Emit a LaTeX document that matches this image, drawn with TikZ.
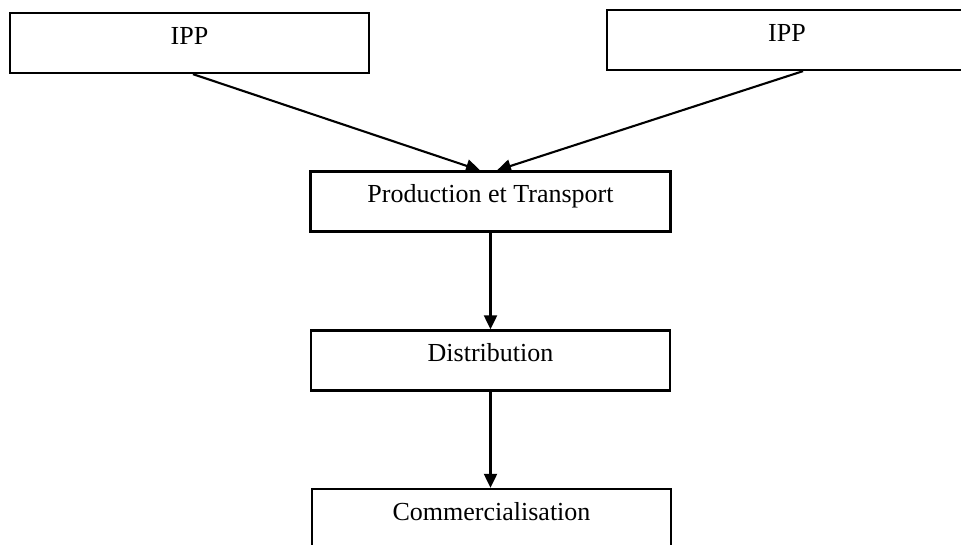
\documentclass[tikz,border=0pt]{standalone}
\usepackage{fontspec}
\setmainfont{Liberation Serif}
\usetikzlibrary{arrows.meta}
\begin{document}
\begin{tikzpicture}[x=1pt,y=-1pt,
  stagebox/.style={draw=black, line width=2.3pt, rectangle, inner sep=0pt,
    minimum height=60pt, text height=0.7em, text depth=0.45em,
    font=\fontsize{26}{30}\selectfont},
  flow/.style={draw=black, line width=2.1pt,
    -{Triangle[length=14pt,width=13pt]}}]
  \useasboundingbox (0,0) rectangle (961,545);
  \clip (0,0) rectangle (961,545);

  % supplier boxes
  \node[stagebox, minimum width=359pt] (ippL) at (189.5,43) {IPP};
  \node[stagebox, minimum width=360pt] (ippR) at (787,40) {IPP};

  % value chain
  \node[stagebox, minimum width=360pt] (prod) at (490.5,201.5) {Production et Transport};
  \node[stagebox, minimum width=359pt] (dist) at (490.5,360.5) {Distribution};
  \node[stagebox, minimum width=359pt] (comm) at (491.5,519) {Commercialisation};

  % connectors
  \draw[flow] ([xshift=3.5pt]ippL.south) -- ([xshift=-10.5pt]prod.north);
  \draw[flow] ([xshift=16pt]ippR.south) -- ([xshift=6.5pt]prod.north);
  \draw[flow] (prod.south) -- (dist.north);
  \draw[flow] (dist.south) -- (dist.south |- comm.north);
\end{tikzpicture}
\end{document}
